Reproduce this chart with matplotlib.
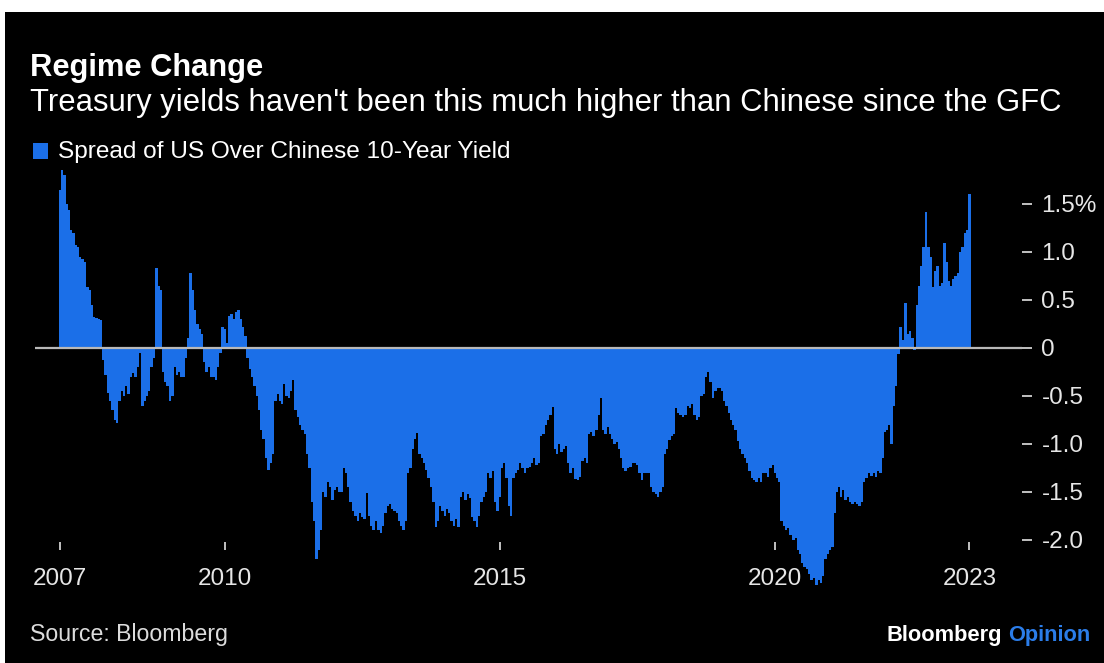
import matplotlib
matplotlib.use("Agg")
import matplotlib.pyplot as plt
from matplotlib.patches import Rectangle
import matplotlib.dates as mdates
import numpy as np
import pandas as pd

# Spread of US over Chinese 10-year government bond yield (percentage points),
# sampled twice a month, one list per calendar year
spread_2007 = [1.65, 1.85, 1.80, 1.50, 1.44, 1.23, 1.20, 1.07, 1.05, 0.95, 0.93, 0.90,
               0.64, 0.60, 0.45, 0.32, 0.31, 0.30, 0.29, -0.12, -0.28, -0.47, -0.55, -0.65]
spread_2008 = [-0.75, -0.78, -0.55, -0.45, -0.50, -0.40, -0.48, -0.30, -0.26, -0.30, -0.20, -0.05,
               -0.60, -0.55, -0.50, -0.45, -0.20, -0.10, 0.83, 0.65, 0.60, -0.25, -0.35, -0.40]
spread_2009 = [-0.55, -0.50, -0.20, -0.28, -0.25, -0.30, -0.30, -0.10, 0.10, 0.78, 0.60, 0.40,
               0.25, 0.20, 0.15, -0.15, -0.25, -0.20, -0.30, -0.30, -0.33, -0.20, -0.05, 0.22]
spread_2010 = [0.20, 0.05, 0.33, 0.35, 0.30, 0.38, 0.40, 0.30, 0.22, 0.12, -0.10, -0.22,
               -0.30, -0.40, -0.50, -0.65, -0.85, -0.95, -1.15, -1.27, -1.20, -1.10, -0.55, -0.48]
spread_2011 = [-0.55, -0.58, -0.38, -0.50, -0.52, -0.45, -0.33, -0.65, -0.72, -0.80, -0.85, -0.90,
               -1.10, -1.25, -1.60, -1.80, -2.20, -2.10, -1.90, -1.50, -1.55, -1.40, -1.45, -1.58]
spread_2012 = [-1.48, -1.45, -1.50, -1.50, -1.25, -1.30, -1.45, -1.60, -1.70, -1.75, -1.80, -1.72,
               -1.76, -1.78, -1.51, -1.75, -1.85, -1.90, -1.80, -1.90, -1.93, -1.85, -1.72, -1.65]
spread_2013 = [-1.62, -1.68, -1.70, -1.72, -1.80, -1.85, -1.90, -1.80, -1.30, -1.25, -1.05, -0.95,
               -0.89, -1.10, -1.15, -1.20, -1.27, -1.35, -1.45, -1.60, -1.86, -1.80, -1.65, -1.70]
spread_2014 = [-1.75, -1.68, -1.72, -1.80, -1.85, -1.78, -1.86, -1.55, -1.50, -1.58, -1.52, -1.56,
               -1.76, -1.80, -1.86, -1.75, -1.60, -1.55, -1.50, -1.30, -1.35, -1.28, -1.60, -1.70]
spread_2015 = [-1.55, -1.25, -1.20, -1.35, -1.65, -1.75, -1.35, -1.30, -1.27, -1.20, -1.25, -1.30,
               -1.25, -1.24, -1.20, -1.15, -1.22, -1.20, -0.92, -0.90, -0.80, -0.75, -0.70, -0.61]
spread_2016 = [-1.05, -1.10, -1.00, -1.08, -1.05, -1.02, -1.20, -1.30, -1.25, -1.36, -1.38, -1.34,
               -1.18, -1.15, -1.20, -0.90, -0.88, -0.92, -0.85, -0.70, -0.52, -0.85, -0.90, -0.82]
spread_2017 = [-0.90, -0.95, -1.00, -0.98, -1.05, -1.15, -1.25, -1.28, -1.25, -1.24, -1.20, -1.20,
               -1.22, -1.30, -1.38, -1.30, -1.30, -1.30, -1.45, -1.50, -1.52, -1.55, -1.50, -1.45]
spread_2018 = [-1.10, -1.05, -0.96, -0.92, -0.90, -0.62, -0.68, -0.70, -0.72, -0.70, -0.60, -0.62,
               -0.58, -0.70, -0.75, -0.72, -0.50, -0.48, -0.30, -0.25, -0.35, -0.52, -0.45, -0.42]
spread_2019 = [-0.42, -0.45, -0.55, -0.60, -0.68, -0.75, -0.80, -0.85, -0.97, -1.05, -1.10, -1.15,
               -1.20, -1.28, -1.35, -1.38, -1.40, -1.35, -1.40, -1.30, -1.30, -1.34, -1.25, -1.22]
spread_2020 = [-1.30, -1.35, -1.40, -1.80, -1.85, -1.90, -1.88, -1.95, -2.00, -1.98, -2.10, -2.15,
               -2.24, -2.28, -2.30, -2.35, -2.42, -2.40, -2.47, -2.42, -2.45, -2.38, -2.20, -2.15]
spread_2021 = [-2.10, -2.07, -1.72, -1.50, -1.45, -1.55, -1.48, -1.58, -1.55, -1.60, -1.62, -1.60,
               -1.63, -1.65, -1.60, -1.40, -1.35, -1.30, -1.33, -1.30, -1.34, -1.28, -1.30, -1.15]
spread_2022 = [-0.88, -0.85, -0.80, -1.00, -0.60, -0.40, -0.06, 0.22, 0.08, 0.47, 0.15, 0.18,
               0.10, -0.02, 0.45, 0.65, 0.85, 1.05, 1.42, 1.05, 0.95, 0.64, 0.80, 0.85]
spread_2023 = [0.65, 0.68, 1.09, 0.90, 0.70, 0.65, 0.72, 0.75, 0.78, 1.00, 1.05, 1.20, 1.23, 1.60]

x_tick_labels = ["2007", "2010", "2015", "2020", "2023"]
y_ticks = [1.5, 1.0, 0.5, 0.0, -0.5, -1.0, -1.5, -2.0]
y_tick_labels = ["1.5%", "1.0", "0.5", "0", "-0.5", "-1.0", "-1.5", "-2.0"]

title = "Regime Change"
subtitle = "Treasury yields haven't been this much higher than Chinese since the GFC"
series_name = "Spread of US Over Chinese 10-Year Yield"
source = "Source: Bloomberg"

spread = np.concatenate([spread_2007, spread_2008, spread_2009, spread_2010, spread_2011,
                         spread_2012, spread_2013, spread_2014, spread_2015, spread_2016,
                         spread_2017, spread_2018, spread_2019, spread_2020, spread_2021,
                         spread_2022, spread_2023])
dates = pd.date_range("2007-01-01", periods=len(spread), freq="SMS")

BLUE = "#1b6fe8"
OPINION_BLUE = "#2b7de9"
FONT = "Liberation Sans"
W, H = 1104, 663

plt.rcParams["font.family"] = [FONT, "DejaVu Sans"]

fig = plt.figure(figsize=(W / 100, H / 100), dpi=100, facecolor="white")
# dark panel with a thin white margin at the top and left
fig.patches.append(Rectangle((5 / W, 0), 1 - 5 / W, 1 - 12 / H, transform=fig.transFigure,
                             facecolor="black", edgecolor="none", zorder=-5))


def px(x, y):
    """Pixel position (from top-left) to figure fraction."""
    return x / W, 1 - y / H


# plot area
ax_left, ax_right, ax_top, ax_bottom = 35, 1022, 165, 590
ax = fig.add_axes([ax_left / W, 1 - ax_bottom / H, (ax_right - ax_left) / W, (ax_bottom - ax_top) / H])
ax.set_facecolor("none")
ax.set_axisbelow(True)
ax.set_zorder(1)

# bars slightly wider than the half-month step so neighbours touch
ax.bar(dates, spread, width=17.5, color=BLUE, linewidth=0, align="center", zorder=2)
ax.axhline(0, color="#b9b9b9", lw=1.6, zorder=3)

# y range: zero sits at pixel 348, 96 px per percentage point
zero_px, per_pt = 348, 96
ax.set_ylim((zero_px - ax_bottom) / per_pt, (zero_px - ax_top) / per_pt)

# x range: 2007-01-01 at pixel 60, 55 px per year
d0 = mdates.date2num(pd.Timestamp("2007-01-01"))
px_per_day = 55 / 365.25
ax.set_xlim(d0 - (60 - ax_left) / px_per_day, d0 + (ax_right - 60) / px_per_day)

for s in ax.spines.values():
    s.set_visible(False)

tick_dates = [pd.Timestamp(f"{y}-01-01") for y in x_tick_labels[:-1]] + [dates[-1]]
ax.set_xticks(tick_dates)
ax.set_xticklabels(x_tick_labels)
ax.spines["bottom"].set_position(("data", (zero_px - 542) / per_pt))
ax.tick_params(axis="x", direction="out", length=5.5, width=1.3, color="#d0d0d0",
               pad=13, labelsize=17.5, labelcolor="#e6e6e6")

ax.yaxis.tick_right()
ax.set_yticks(y_ticks)
ax.set_yticklabels(y_tick_labels)
ax.tick_params(axis="y", direction="out", length=7, width=1.3, color="#d0d0d0",
               pad=7, labelsize=17.5, labelcolor="#e6e6e6")
for lab in ax.get_yticklabels():
    lab.set_horizontalalignment("left")

renderer = fig.canvas.get_renderer()


def fit(txt, width_px):
    w = txt.get_window_extent(renderer).width
    txt.set_fontsize(txt.get_fontsize() * width_px / w)
    return txt


# titles
fit(fig.text(*px(30, 76), title, color="white", fontsize=22, fontweight="bold",
             va="baseline", ha="left"), 233)
fit(fig.text(*px(30, 111), subtitle, color="white", fontsize=22,
             va="baseline", ha="left"), 1025)

# legend
fig.patches.append(Rectangle(px(33, 159), 15 / W, 16 / H, transform=fig.transFigure,
                             facecolor=BLUE, edgecolor="none"))
fit(fig.text(*px(58, 158), series_name, color="white", fontsize=16,
             va="baseline", ha="left"), 454)

# footer
fit(fig.text(*px(30, 641), source, color="#dcdcdc", fontsize=16,
             va="baseline", ha="left"), 198)
brand = fig.text(*px(886, 641), "Bloomberg Opinion", fontsize=16, fontweight="bold",
                 va="baseline", ha="left", alpha=0)
fit(brand, 204)
fs = brand.get_fontsize()
fig.text(*px(886, 641), "Bloomberg", color="white", fontsize=fs, fontweight="bold",
         va="baseline", ha="left")
fig.text(*px(1090, 641), "Opinion", color=OPINION_BLUE, fontsize=fs, fontweight="bold",
         va="baseline", ha="right")

fig.savefig("out.png", dpi=100, facecolor=fig.get_facecolor())
